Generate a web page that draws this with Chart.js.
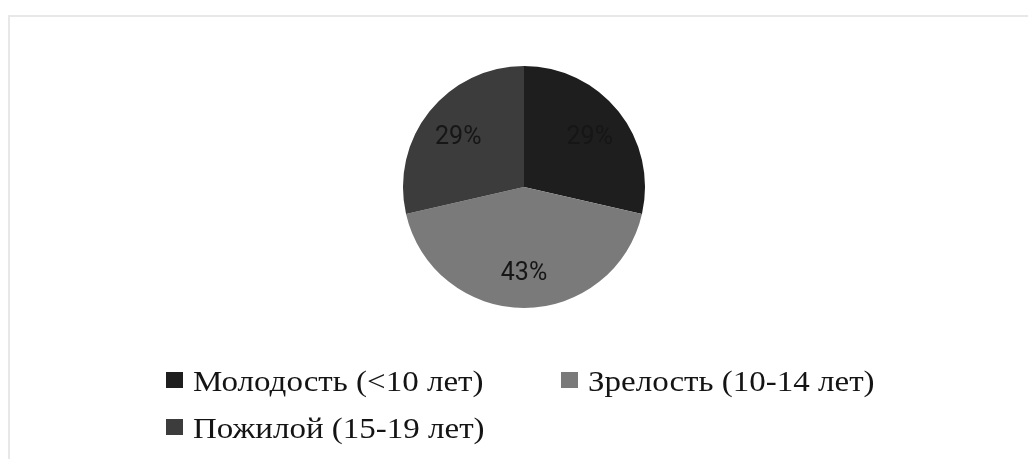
<!DOCTYPE html>
<html>
<head>
<meta charset="utf-8">
<script src="https://cdn.jsdelivr.net/npm/chart.js@4/dist/chart.umd.min.js"></script>
<style>
  html, body { margin: 0; padding: 0; background: #fff; }
  #wrap { position: relative; width: 1028px; height: 459px; overflow: hidden; }
  #frame { position: absolute; left: 8px; top: 15px; width: 1030px; height: 460px;
           border-top: 2px solid #e8e8e8; border-left: 2px solid #e8e8e8; box-sizing: border-box; }
  #c { position: absolute; left: 0; top: 0; }
  .lg-box { position: absolute; width: 17px; height: 16px; }
  .lg-text { position: absolute; font-family: "Liberation Serif", "Times New Roman", serif;
             font-size: 30px; line-height: 30px; color: #141414; white-space: nowrap;
             transform: scaleX(1.1); transform-origin: 0 0; }
</style>
</head>
<body>
<div id="wrap">
  <div id="frame"></div>
  <canvas id="c" width="1028" height="459"></canvas>
  <div id="legend"></div>
</div>
<script>
const categories = ["Молодость (<10 лет)", "Зрелость (10-14 лет)", "Пожилой (15-19 лет)"];
const values = [2, 3, 2];
const colors = ["#1e1e1e", "#7a7a7a", "#3c3c3c"];

const pctLabels = {
  id: 'pctLabels',
  afterDatasetsDraw(chart) {
    const ctx = chart.ctx;
    const meta = chart.getDatasetMeta(0);
    const data = chart.data.datasets[0].data;
    const total = data.reduce((a, b) => a + b, 0);
    ctx.save();
    ctx.font = '25px Roboto, "Open Sans", sans-serif';
    ctx.fillStyle = '#161616';
    ctx.textAlign = 'center';
    ctx.textBaseline = 'middle';
    meta.data.forEach((arc, i) => {
      const p = arc.getProps(['x', 'y', 'startAngle', 'endAngle', 'outerRadius'], true);
      const mid = (p.startAngle + p.endAngle) / 2;
      const r = p.outerRadius * 0.695;
      const x = p.x + Math.cos(mid) * r;
      const y = p.y + Math.sin(mid) * r + 3;
      ctx.fillText(Math.round(data[i] / total * 100) + '%', x, y);
    });
    ctx.restore();
  }
};

const chart = new Chart(document.getElementById('c'), {
  type: 'pie',
  data: {
    labels: categories,
    datasets: [{ data: values, backgroundColor: colors, borderWidth: 0 }]
  },
  options: {
    responsive: false,
    animation: false,
    layout: { padding: { left: 20, right: 0, top: 66, bottom: 151 } },
    plugins: { legend: { display: false }, tooltip: { enabled: false } }
  },
  plugins: [pctLabels]
});

// HTML legend built from the chart's own legend items
const legendEl = document.getElementById('legend');
const items = chart.options.plugins.legend.labels.generateLabels(chart);
const slots = [[166, 372], [561, 372], [166, 419]];
items.forEach((it, i) => {
  const [x, y] = slots[i];
  const b = document.createElement('div');
  b.className = 'lg-box';
  b.style.left = x + 'px';
  b.style.top = y + 'px';
  b.style.background = it.fillStyle;
  legendEl.appendChild(b);
  const t = document.createElement('div');
  t.className = 'lg-text';
  t.style.left = (x + 27) + 'px';
  t.style.top = (y - 6) + 'px';
  t.textContent = it.text;
  legendEl.appendChild(t);
});
</script>
</body>
</html>
